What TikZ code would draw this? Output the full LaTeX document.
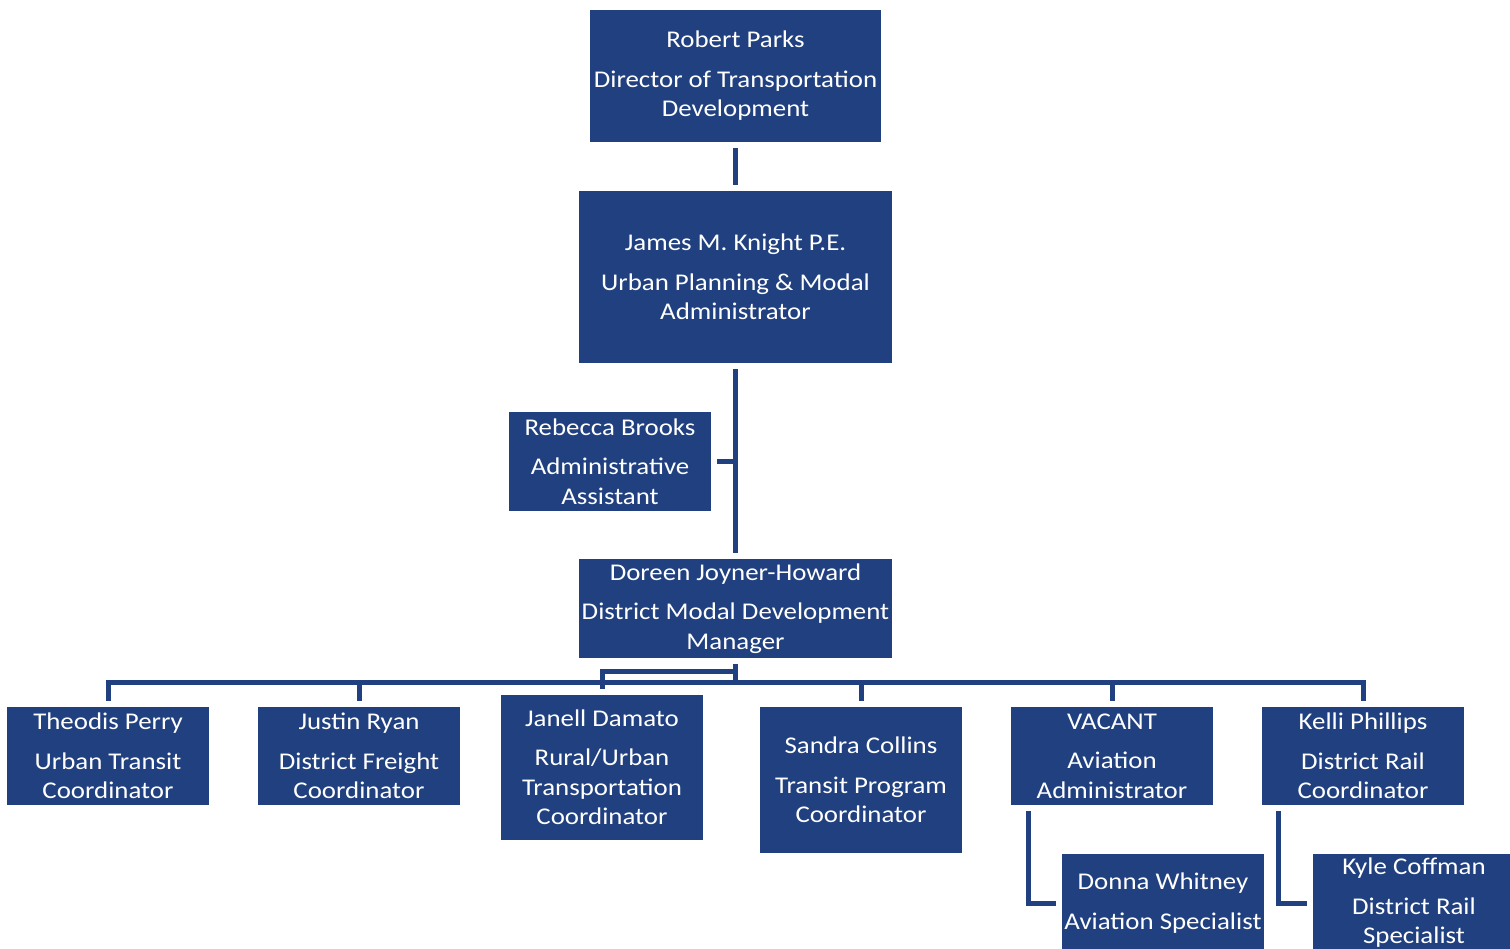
\documentclass[tikz,border=0pt]{standalone}
\usepackage{fontspec}
\setmainfont{Carlito}[FakeStretch=1.12]
\usepackage{tikz}
\usetikzlibrary{positioning,calc}
\definecolor{bleuorg}{RGB}{32,64,127}

\tikzset{
  poste/.style={fill=bleuorg,text=white,inner sep=0pt,align=center,
                minimum width=202pt,minimum height=98pt,
                font=\fontsize{24}{29.5}\selectfont},
  lien/.style={draw=bleuorg,line width=5pt,line join=miter}
}

\begin{document}
\begin{tikzpicture}[x=1pt,y=-1pt]
  \clip (0,0) rectangle (1510,949);
  % direction
  \node[poste,minimum width=291pt,minimum height=132pt] (robert) at (735.5,76)
    {Robert Parks\\[10pt]Director of Transportation\\Development};
  \node[poste,minimum width=313pt,minimum height=172pt] (james) at (735.5,277)
    {James M. Knight P.E.\\[10pt]Urban Planning \& Modal\\Administrator};
  \node[poste,minimum height=99pt] (rebecca) at (610,461.5)
    {Rebecca Brooks\\[10pt]Administrative\\Assistant};
  \node[poste,minimum width=313pt,minimum height=99pt] (doreen) at (735.5,608.5)
    {Doreen Joyner-Howard\\[10pt]District Modal Development\\Manager};
  % coordinateurs
  \node[poste] (theodis) at (108,756) {Theodis Perry\\[10pt]Urban Transit\\Coordinator};
  \node[poste] (justin) at (359,756) {Justin Ryan\\[10pt]District Freight\\Coordinator};
  \node[poste,minimum height=145pt] (janell) at (602,767.5)
    {Janell Damato\\[10pt]Rural/Urban\\Transportation\\Coordinator};
  \node[poste,minimum height=146pt] (sandra) at (861,780)
    {Sandra Collins\\[10pt]Transit Program\\Coordinator};
  \node[poste] (vacant) at (1112,756) {VACANT\\[10pt]Aviation\\Administrator};
  \node[poste] (kelli) at (1363,756) {Kelli Phillips\\[10pt]District Rail\\Coordinator};
  % specialistes
  \node[poste] (donna) at (1163,903) {Donna Whitney\\[10pt]Aviation Specialist};
  \node[poste] (kyle) at (1414,903) {Kyle Coffman\\[10pt]District Rail\\Specialist};

  \coordinate (bus) at (735.5,682);
  \coordinate (crochet) at (735.5,671);

  \draw[lien] ([yshift=-6pt]robert.south) -- ([yshift=6pt]james.north);
  \draw[lien] ([yshift=-6pt]james.south) -- ([yshift=6pt]doreen.north);
  \draw[lien] ([xshift=6pt]rebecca.east) -- (rebecca.east -| james.south);
  \draw[lien] ([yshift=-6pt]doreen.south) -- (bus);
  \draw[lien] ([yshift=6pt]theodis.north) |- (kelli.north |- bus) -- ([yshift=6pt]kelli.north);
  \foreach \n in {justin,sandra,vacant}{
    \draw[lien] (\n.north |- bus) -- ([yshift=6pt]\n.north);
  }
  \draw[lien] (crochet) -| ([yshift=6pt]janell.north);
  \draw[lien] ([shift={(18pt,-6pt)}]vacant.south west) |- ([xshift=-6pt]donna.west);
  \draw[lien] ([shift={(17pt,-6pt)}]kelli.south west) |- ([xshift=-6pt]kyle.west);
\end{tikzpicture}
\end{document}
